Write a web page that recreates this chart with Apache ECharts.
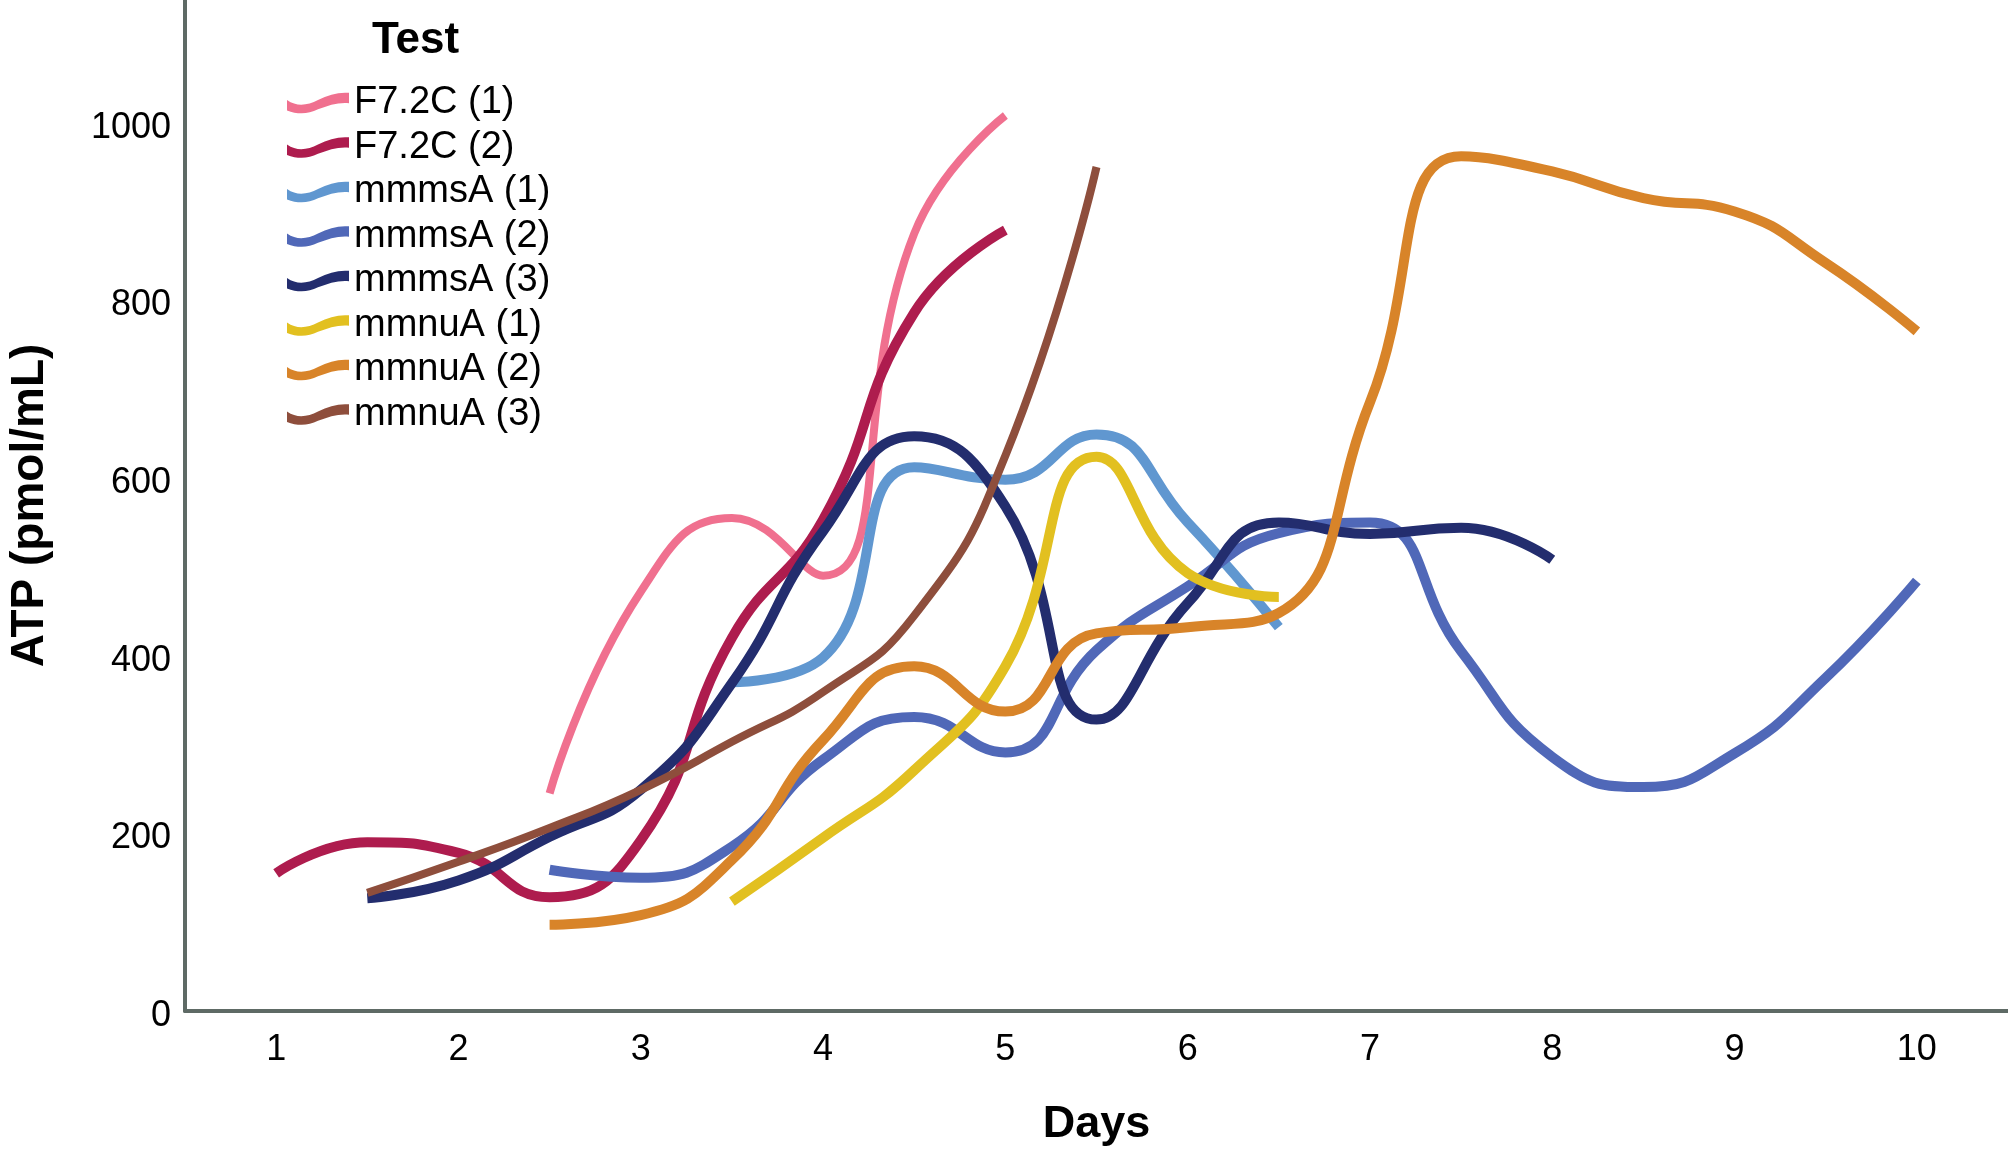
<!DOCTYPE html>
<html>
<head>
<meta charset="utf-8">
<script src="https://cdn.jsdelivr.net/npm/echarts@6/dist/echarts.min.js"></script>
<style>
    html, body { margin: 0; padding: 0; background: #ffffff; }
    #chart { width: 2008px; height: 1152px; }
</style>
</head>
<body>
<div id="chart"></div>
<script>
// values, ATP in pmol/mL per day
const dayTicks = [1, 2, 3, 4, 5, 6, 7, 8, 9, 10];

const f72c1Days = [2.5, 3, 3.5, 4, 4.5, 5];
const f72c1Atp = [245, 472, 555, 490, 875, 1008];

const f72c2Days = [1, 1.5, 2, 2.5, 3, 3.5, 4, 4.5, 5];
const f72c2Atp = [155, 190, 178, 128, 192, 420, 553, 786, 879];

const mmmsA1Days = [3.5, 4, 4.5, 5, 5.5, 6, 6.5];
const mmmsA1Atp = [370, 398, 612, 598, 649, 550, 432];

const mmmsA2Days = [2.5, 3, 3.5, 4, 4.5, 5, 5.5, 6, 6.5, 7, 7.5, 8, 8.5, 9, 9.5, 10];
const mmmsA2Atp = [159, 150, 185, 283, 331, 291, 406, 478, 538, 550, 405, 286, 252, 290, 375, 484];

const mmmsA3Days = [1.5, 2, 2.5, 3, 3.5, 4, 4.5, 5, 5.5, 6, 6.5, 7, 7.5, 8];
const mmmsA3Atp = [127, 147, 196, 249, 369, 540, 647, 568, 328, 459, 550, 537, 544, 508];

const mmnuA1Days = [3.5, 4, 4.5, 5, 5.5, 6, 6.5];
const mmnuA1Atp = [123, 195, 271, 388, 624, 493, 466];

const mmnuA2Days = [2.5, 3, 3.5, 4, 4.5, 5, 5.5, 6, 6.5, 7, 7.5, 8, 8.5, 9, 9.5, 10];
const mmnuA2Atp = [97, 108, 170, 305, 388, 337, 425, 432, 448, 685, 962, 945, 915, 900, 842, 765];

const mmnuA3Days = [1.5, 2, 2.5, 3, 3.5, 4, 4.5, 5, 5.5];
const mmnuA3Atp = [133, 168, 206, 249, 303, 359, 445, 625, 950];

const font = '"Liberation Sans", Arial, sans-serif';
const axisColor = '#5e6a65';
const waveIcon = 'path://M0 8 C10 15 20 13 30 8 C40 3 50 0 60 1 L60 11 C50 10 40 13 30 17 C20 22 10 22 0 18 Z';

function pairs(days, values) {
    return days.map(function (d, i) {
        return [d, values[i]];
    });
}

function makeSeries(name, days, values, color, width) {
    return {
        type: 'line',
        name: name,
        data: pairs(days, values),
        smooth: 0.5,
        symbol: 'none',
        showSymbol: false,
        itemStyle: { color: color },
        lineStyle: { color: color, width: width, cap: 'butt' }
    };
}

const chart = echarts.init(document.getElementById('chart'));
chart.setOption({
    animation: false,
    backgroundColor: '#ffffff',
    textStyle: { fontFamily: font },
    title: {
        text: 'Test',
        left: 372,
        top: 19,
        padding: 0,
        textStyle: { fontFamily: font, fontSize: 44, fontWeight: 'bold', color: '#000' }
    },
    legend: {
        orient: 'vertical',
        left: 287,
        top: 81,
        padding: 0,
        itemWidth: 62,
        itemHeight: 22,
        itemGap: 0.5,
        itemTextGap: 6,
        icon: waveIcon,
        itemStyle: { borderWidth: 0 },
        textStyle: { fontFamily: font, fontSize: 38, color: '#000', lineHeight: 44 }
    },
    grid: { left: 185, right: 0, top: 0, bottom: 141, containLabel: false, outerBoundsMode: 'none' },
    xAxis: {
        type: 'value',
        min: 0.5,
        max: 10.5,
        name: 'Days',
        nameLocation: 'middle',
        nameGap: 91,
        nameTextStyle: { fontFamily: font, fontSize: 45, fontWeight: 'bold', color: '#000' },
        axisLine: { show: true, lineStyle: { color: axisColor, width: 4 } },
        axisTick: { show: false },
        splitLine: { show: false },
        axisLabel: {
            customValues: dayTicks,
            fontFamily: font,
            fontSize: 36,
            color: '#000',
            margin: 21
        }
    },
    yAxis: {
        type: 'value',
        min: 0,
        max: 1138,
        interval: 200,
        name: 'ATP (pmol/mL)',
        nameLocation: 'middle',
        nameRotate: 90,
        nameGap: 132,
        nameTextStyle: { fontFamily: font, fontSize: 46, fontWeight: 'bold', color: '#000' },
        axisLine: { show: true, lineStyle: { color: axisColor, width: 4 } },
        axisTick: { show: false },
        splitLine: { show: false },
        axisLabel: {
            showMaxLabel: false,
            formatter: function (v) { return '{v|' + v + '}'; },
            rich: {
                v: { fontFamily: font, fontSize: 36, color: '#000', padding: [10, 0, 0, 0] }
            },
            margin: 14
        }
    },
    series: [
        makeSeries('F7.2C (1)', f72c1Days, f72c1Atp, '#f0708f', 8),
        makeSeries('F7.2C (2)', f72c2Days, f72c2Atp, '#ae1c4e', 10),
        makeSeries('mmmsA (1)', mmmsA1Days, mmmsA1Atp, '#6097d0', 10),
        makeSeries('mmmsA (2)', mmmsA2Days, mmmsA2Atp, '#5068b8', 10),
        makeSeries('mmmsA (3)', mmmsA3Days, mmmsA3Atp, '#232d6e', 10),
        makeSeries('mmnuA (1)', mmnuA1Days, mmnuA1Atp, '#e2c020', 10),
        makeSeries('mmnuA (2)', mmnuA2Days, mmnuA2Atp, '#d88429', 10),
        makeSeries('mmnuA (3)', mmnuA3Days, mmnuA3Atp, '#8e4e3c', 8)
    ]
});
</script>
</body>
</html>
